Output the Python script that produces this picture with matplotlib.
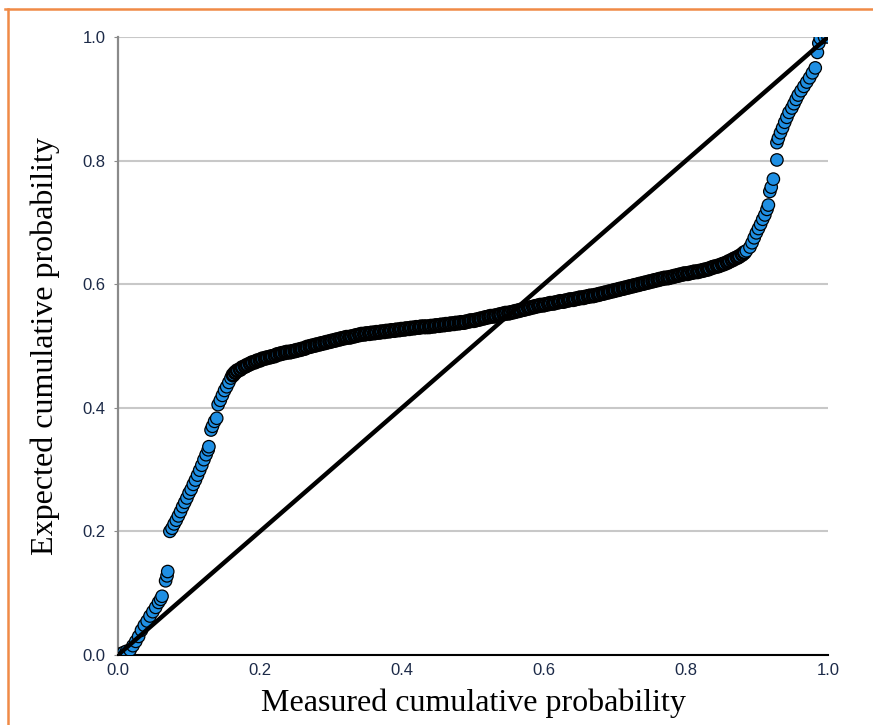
import matplotlib.pyplot as plt
from matplotlib.lines import Line2D

# measured vs expected cumulative probability
measured = [
    0.000, 0.004, 0.008, 0.012, 0.017, 0.021, 0.025, 0.029, 0.033, 0.037,
    0.041, 0.045, 0.049, 0.053, 0.057, 0.060, 0.062, 0.067, 0.069, 0.070,
    0.073, 0.076, 0.079, 0.082, 0.085, 0.088, 0.091, 0.094, 0.097, 0.100,
    0.103, 0.106, 0.109, 0.112, 0.115, 0.118, 0.121, 0.124, 0.127, 0.128,
    0.131, 0.133, 0.136, 0.139, 0.141, 0.144, 0.147, 0.150, 0.153, 0.156,
    0.159, 0.162,
    0.165, 0.172, 0.179, 0.186, 0.193, 0.200, 0.207, 0.214, 0.221, 0.228,
    0.235, 0.242, 0.249, 0.256, 0.263, 0.270, 0.277, 0.284, 0.291, 0.298,
    0.305, 0.312, 0.319, 0.326, 0.333, 0.340, 0.347, 0.354, 0.361, 0.368,
    0.375, 0.382, 0.389, 0.396, 0.403, 0.410, 0.417, 0.424, 0.431, 0.438,
    0.445, 0.452, 0.459, 0.466, 0.473, 0.480, 0.487, 0.494, 0.501, 0.508,
    0.515, 0.522, 0.529, 0.536, 0.543, 0.550, 0.557, 0.564, 0.571, 0.578,
    0.585, 0.592, 0.599, 0.606, 0.613, 0.620, 0.627, 0.634, 0.641, 0.648,
    0.655, 0.662, 0.669, 0.676, 0.683, 0.690, 0.697, 0.704, 0.711, 0.718,
    0.725, 0.732, 0.739, 0.746, 0.753, 0.760, 0.767, 0.774, 0.781, 0.788,
    0.795, 0.802, 0.809, 0.816, 0.823, 0.830, 0.837, 0.844, 0.851, 0.858,
    0.865, 0.872, 0.879, 0.885,
    0.168, 0.175, 0.182, 0.189, 0.196, 0.203, 0.210, 0.217, 0.224, 0.231,
    0.238, 0.245, 0.252, 0.259, 0.266, 0.273, 0.280, 0.287, 0.294, 0.301,
    0.308, 0.315, 0.322, 0.329, 0.336, 0.343, 0.350, 0.357, 0.364, 0.371,
    0.378, 0.385, 0.392, 0.399, 0.406, 0.413, 0.420, 0.427, 0.434, 0.441,
    0.448, 0.455, 0.462, 0.469, 0.476, 0.483, 0.490, 0.497, 0.504, 0.511,
    0.518, 0.525, 0.532, 0.539, 0.546, 0.553, 0.560, 0.567, 0.574, 0.581,
    0.588, 0.595, 0.602, 0.609, 0.616, 0.623, 0.630, 0.637, 0.644, 0.651,
    0.658, 0.665, 0.672, 0.679, 0.686, 0.693, 0.700, 0.707, 0.714, 0.721,
    0.728, 0.735, 0.742, 0.749, 0.756, 0.763, 0.770, 0.777, 0.784, 0.791,
    0.798, 0.805, 0.812, 0.819, 0.826, 0.833, 0.840, 0.847, 0.854, 0.861,
    0.868, 0.875, 0.882,
    0.890, 0.893, 0.896, 0.899, 0.902, 0.905, 0.908, 0.911, 0.914, 0.916,
    0.918, 0.920, 0.923, 0.928, 0.928, 0.930, 0.933, 0.936, 0.939, 0.942,
    0.945, 0.949, 0.952, 0.955, 0.958, 0.962, 0.966, 0.970, 0.974, 0.978,
    0.982, 0.985, 0.987, 0.989, 0.995, 1.000,
]
expected = [
    0.000, 0.002, 0.004, 0.006, 0.008, 0.015, 0.022, 0.030, 0.040, 0.048,
    0.055, 0.063, 0.070, 0.077, 0.085, 0.090, 0.095, 0.120, 0.128, 0.135,
    0.200, 0.205, 0.212, 0.218, 0.225, 0.232, 0.240, 0.247, 0.254, 0.262,
    0.268, 0.276, 0.283, 0.291, 0.299, 0.307, 0.316, 0.324, 0.332, 0.337,
    0.364, 0.370, 0.378, 0.383, 0.405, 0.412, 0.420, 0.428, 0.434, 0.441,
    0.448, 0.453,
    0.457, 0.462, 0.467, 0.471, 0.474, 0.477, 0.480, 0.482, 0.484, 0.487,
    0.489, 0.490, 0.492, 0.494, 0.496, 0.499, 0.501, 0.503, 0.505, 0.507,
    0.509, 0.511, 0.513, 0.514, 0.516, 0.518, 0.519, 0.520, 0.521, 0.522,
    0.523, 0.524, 0.525, 0.526, 0.527, 0.528, 0.529, 0.530, 0.531, 0.531,
    0.532, 0.533, 0.534, 0.535, 0.536, 0.537, 0.538, 0.540, 0.541, 0.543,
    0.545, 0.547, 0.548, 0.550, 0.552, 0.553, 0.555, 0.557, 0.559, 0.561,
    0.563, 0.565, 0.566, 0.568, 0.569, 0.571, 0.572, 0.574, 0.575, 0.577,
    0.578, 0.580, 0.581, 0.583, 0.585, 0.587, 0.589, 0.591, 0.593, 0.595,
    0.597, 0.599, 0.601, 0.603, 0.605, 0.607, 0.609, 0.610, 0.612, 0.614,
    0.616, 0.617, 0.619, 0.620, 0.622, 0.624, 0.627, 0.629, 0.632, 0.635,
    0.639, 0.643, 0.648, 0.654,
    0.460, 0.465, 0.469, 0.473, 0.476, 0.479, 0.481, 0.483, 0.486, 0.488,
    0.490, 0.491, 0.493, 0.495, 0.498, 0.500, 0.502, 0.504, 0.506, 0.508,
    0.510, 0.512, 0.514, 0.515, 0.517, 0.519, 0.520, 0.521, 0.522, 0.523,
    0.524, 0.525, 0.526, 0.527, 0.528, 0.529, 0.530, 0.531, 0.531, 0.532,
    0.533, 0.534, 0.535, 0.536, 0.537, 0.538, 0.539, 0.541, 0.542, 0.544,
    0.546, 0.548, 0.549, 0.551, 0.553, 0.554, 0.556, 0.558, 0.560, 0.562,
    0.564, 0.566, 0.567, 0.569, 0.570, 0.572, 0.573, 0.575, 0.576, 0.578,
    0.579, 0.581, 0.582, 0.584, 0.586, 0.588, 0.590, 0.592, 0.594, 0.596,
    0.598, 0.600, 0.602, 0.604, 0.606, 0.608, 0.610, 0.611, 0.613, 0.615,
    0.617, 0.618, 0.620, 0.621, 0.623, 0.625, 0.628, 0.630, 0.633, 0.637,
    0.641, 0.645, 0.651,
    0.660, 0.667, 0.675, 0.683, 0.690, 0.697, 0.705, 0.712, 0.721, 0.728,
    0.750, 0.757, 0.770, 0.801, 0.829, 0.836, 0.845, 0.853, 0.862, 0.870,
    0.878, 0.885, 0.892, 0.899, 0.906, 0.913, 0.920, 0.927, 0.934, 0.942,
    0.950, 0.975, 0.990, 0.998, 1.000, 1.000,
]
ticks = [0.0, 0.2, 0.4, 0.6, 0.8, 1.0]
tick_labels = ['0.0', '0.2', '0.4', '0.6', '0.8', '1.0']

# draw in order of measured value, like the cumulative plot does
pts = sorted(zip(measured, expected))
xs = [p[0] for p in pts]
ys = [p[1] for p in pts]
# the crowded middle band reads almost black in the original
edge_w = [1.9 if 0.16 < x < 0.885 else 0.9 for x in xs]

fig = plt.figure(figsize=(8.73, 7.25), dpi=100)
ax = fig.add_axes([0.1352, 0.0966, 0.8133, 0.8524])

ax.scatter(xs, ys, s=80, facecolor='#1f8fe3', edgecolor='black',
           linewidths=edge_w, zorder=3)
ax.plot([0, 1], [0, 1], color='black', linewidth=3.2, zorder=4)

ax.set_xlim(0, 1)
ax.set_ylim(0, 1)
ax.set_xticks(ticks)
ax.set_xticklabels(tick_labels)
ax.set_yticks(ticks)
ax.set_yticklabels(tick_labels)
ax.yaxis.grid(True, color='#c8c8c8', linewidth=1.5)
ax.set_axisbelow(True)

for side in ['top', 'right']:
    ax.spines[side].set_visible(False)
ax.spines['left'].set_color('#8a8a8a')
ax.spines['left'].set_linewidth(1.6)
ax.spines['bottom'].set_color('black')
ax.spines['bottom'].set_linewidth(1.5)

ax.tick_params(axis='y', length=3, color='#8a8a8a', pad=6,
               labelsize=12, labelcolor='#1c2a48')
ax.tick_params(axis='x', length=0, pad=6, labelsize=12, labelcolor='#1c2a48')
for lab in ax.get_xticklabels() + ax.get_yticklabels():
    lab.set_family('Liberation Sans')

ax.set_xlabel('Measured cumulative probability', family='Liberation Serif',
              fontsize=23, labelpad=7)
ax.set_ylabel('Expected cumulative probability', family='Liberation Serif',
              fontsize=23, labelpad=16)

# orange frame on top and left
fig.add_artist(Line2D([0.006, 1.0], [0.9876, 0.9876], transform=fig.transFigure,
                      color='#f08a46', linewidth=1.8))
fig.add_artist(Line2D([0.0092, 0.0092], [0.0, 0.9876], transform=fig.transFigure,
                      color='#f08a46', linewidth=1.8))

fig.savefig('out.png', dpi=100)
